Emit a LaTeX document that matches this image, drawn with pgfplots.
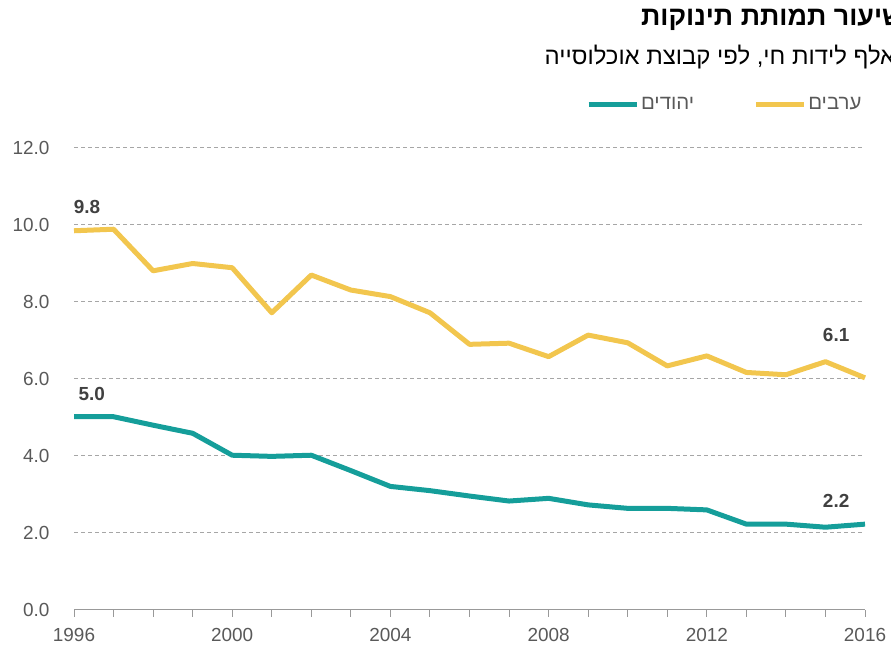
\documentclass[border=0pt]{standalone}
\usepackage{fontspec}
\setmainfont{Liberation Sans}
\newfontfamily\hebfont[Script=Hebrew]{Liberation Sans}
\TeXXeTstate=1
\usepackage{pgfplots}
\pgfplotsset{compat=1.18}
\usepackage{pgfplotstable}
\definecolor{teal1}{HTML}{159E9A}
\definecolor{gold1}{HTML}{F2C64E}
\definecolor{gridc}{HTML}{A6A6A6}
\definecolor{axc}{HTML}{999999}
\definecolor{tickc}{HTML}{595959}
\definecolor{valc}{HTML}{404040}
\newcommand{\heb}[1]{{\hebfont\beginR #1\endR}}
\pgfplotstableread{
year arabs jews
1996 9.85 5.02
1997 9.89 5.02
1998 8.81 4.80
1999 9.00 4.59
2000 8.89 4.02
2001 7.72 3.99
2002 8.70 4.02
2003 8.31 3.62
2004 8.14 3.21
2005 7.72 3.10
2006 6.90 2.96
2007 6.93 2.83
2008 6.58 2.90
2009 7.14 2.73
2010 6.94 2.64
2011 6.34 2.64
2012 6.60 2.60
2013 6.17 2.23
2014 6.11 2.23
2015 6.45 2.15
2016 6.03 2.23
}\datatable
\begin{document}
\begin{tikzpicture}[x=1bp,y=1bp]
\clip (0,0) rectangle (891,645);
\node[anchor=east, inner sep=0pt, font=\fontsize{27}{31}\selectfont\bfseries, text=black] at (904,625) {\heb{שיעור תמותת תינוקות}};
\node[anchor=east, inner sep=0pt, font=\fontsize{24}{28}\selectfont, text=black] at (908,588) {\heb{לאלף לידות חי, לפי קבוצת אוכלוסייה}};
\begin{axis}[
  at={(74bp,35bp)}, anchor=south west,
  scale only axis, width=791bp, height=462bp,
  xmin=1996, xmax=2016, ymin=0, ymax=12,
  axis x line*=bottom, axis y line*=left,
  x axis line style={axc, line width=1bp},
  y axis line style={draw=none},
  xtick={1996,2000,...,2016}, minor x tick num=3,
  ytick={0,2,...,12},
  tick align=outside, xtick align=outside,
  major tick length=7bp, minor tick length=7bp,
  x tick style={axc, line width=1bp},
  y tick style={draw=none},
  ymajorgrids,
  major grid style={gridc, line width=1bp, dash pattern=on 4bp off 3bp},
  ticklabel style={font=\fontsize{19}{22}\selectfont, text=tickc},
  /pgf/number format/assume math mode=true,
  xticklabel={\pgfmathprintnumber[1000 sep={},fixed,precision=0]{\tick}},
  yticklabel={\pgfmathprintnumber[fixed,fixed zerofill,precision=1]{\tick}},
  yticklabel style={anchor=east, xshift=-14bp},
  xticklabel style={anchor=north, yshift=-8bp},
  legend columns=2,
  legend style={draw=none, fill=none, at={(1.002,1.095)}, anchor=east,
    font=\fontsize{20.5}{23}\selectfont, text=tickc,
    /tikz/every even column/.append style={column sep=57bp},
    nodes={inner sep=2bp}},
  legend image code/.code={\draw[#1] (0bp,0bp) -- (48bp,0bp);},
  clip=false,
]
\addplot[teal1, line width=5bp, line join=round] table[x=year, y=jews] {\datatable};
\addlegendentry{\heb{יהודים}}
\addplot[gold1, line width=5bp, line join=round] table[x=year, y=arabs] {\datatable};
\addlegendentry{\heb{ערבים}}
\node[font=\fontsize{19}{22}\selectfont\bfseries, text=valc] at (axis cs:1996.33,10.47) {9.8};
\node[font=\fontsize{19}{22}\selectfont\bfseries, text=valc] at (axis cs:1996.45,5.62) {5.0};
\node[font=\fontsize{19}{22}\selectfont\bfseries, text=valc] at (axis cs:2015.27,7.14) {6.1};
\node[font=\fontsize{19}{22}\selectfont\bfseries, text=valc] at (axis cs:2015.27,2.83) {2.2};
\end{axis}
\end{tikzpicture}
\end{document}
